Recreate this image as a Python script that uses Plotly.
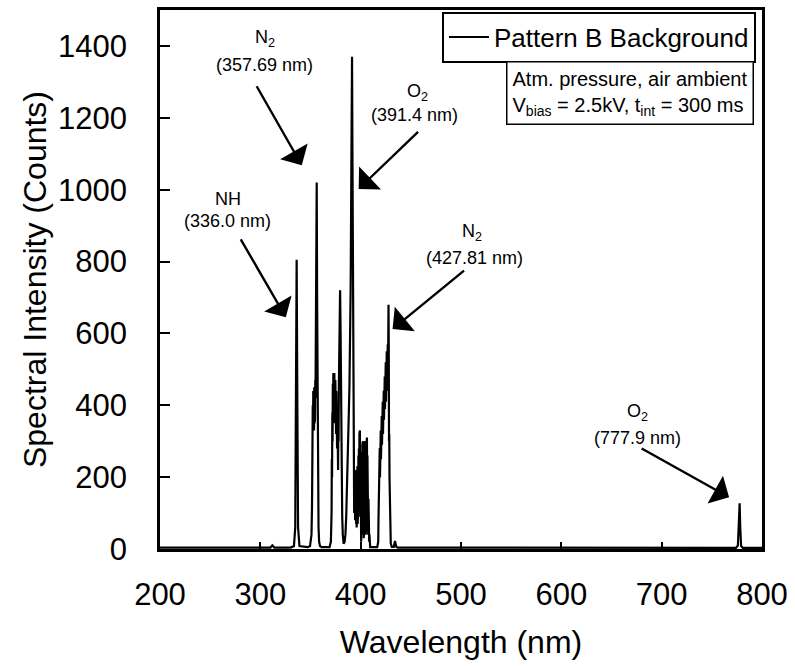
import plotly.graph_objects as go

# ---------------- data ----------------
# (wavelength nm, counts) per spectral region
base_pts = [(200, 4), (296, 4), (300, 5), (304, 4), (310, 4), (312, 10), (314, 4), (330, 4)]

nh_pts = [(333.5, 8), (334.8, 60), (335.6, 520), (336.2, 805), (336.8, 450),
          (337.6, 60), (339, 8), (347, 5)]

n2_357_pts = [(349.5, 8), (351.0, 40), (351.5, 120), (351.75, 300), (352.0, 250),
              (352.25, 400), (352.5, 330), (352.75, 440), (353.0, 340), (353.25, 430),
              (353.5, 330), (353.75, 450), (354.0, 350), (354.25, 440), (354.5, 360),
              (354.75, 470), (355.0, 420), (355.25, 560), (355.5, 700), (355.8, 860),
              (356.2, 1020), (356.6, 700), (357.0, 380), (357.5, 150), (358.0, 60),
              (358.6, 20), (359.5, 8), (361, 5), (369, 5)]

mid_pts = [(370.3, 20), (370.8, 60), (371.0, 100), (371.25, 250), (371.5, 200),
           (371.75, 380), (372.0, 300), (372.25, 460), (372.5, 350), (372.75, 490),
           (373.0, 380), (373.25, 470), (373.5, 360), (373.75, 490), (374.0, 370),
           (374.25, 480), (374.5, 350), (374.75, 470), (375.0, 340), (375.25, 460),
           (375.5, 320), (375.75, 440), (376.0, 300), (376.25, 430), (376.5, 280),
           (376.75, 400), (377.0, 250), (377.25, 380), (377.5, 220), (377.75, 360),
           (378.0, 300), (378.25, 450), (378.5, 520), (379.0, 640), (379.5, 720),
           (380.0, 600), (380.5, 380), (381.0, 200), (381.6, 90), (382.2, 40),
           (383.0, 15), (384.0, 20)]

o2_391_pts = [(384.8, 40), (385.6, 90), (386.4, 160), (387.0, 220), (387.6, 300),
              (388.2, 380), (388.8, 450), (389.4, 560), (390.0, 720), (390.6, 1000),
              (391.0, 1250), (391.4, 1370), (391.8, 1100), (392.2, 700), (392.6, 350),
              (393.0, 200)]

tail_pts = [(393.25, 150), (393.5, 100), (393.75, 190), (394.0, 90), (394.25, 200),
            (394.5, 80), (394.75, 170), (395.0, 110), (395.25, 220), (395.5, 70),
            (395.75, 190), (396.0, 60), (396.25, 160), (396.5, 90), (396.75, 230),
            (397.0, 70), (397.25, 200), (397.5, 110), (397.75, 260), (398.0, 90),
            (398.25, 280), (398.5, 130), (398.75, 320), (399.0, 150), (399.25, 330),
            (399.5, 120), (399.75, 270), (400.0, 60), (400.25, 230), (400.5, 20),
            (400.75, 180), (401.0, 50), (401.25, 240), (401.5, 40), (401.75, 290),
            (402.0, 60), (402.25, 300), (402.5, 40), (402.75, 250), (403.0, 30),
            (403.25, 220), (403.5, 50), (403.75, 280), (404.0, 70), (404.25, 300),
            (404.5, 60), (404.75, 240), (405.0, 40), (405.25, 200), (405.5, 60),
            (405.75, 290), (406.0, 90), (406.25, 310), (406.5, 80), (406.75, 260),
            (407.0, 50), (407.25, 200), (407.5, 40), (407.75, 140), (408.0, 30),
            (408.25, 90), (408.5, 20), (408.75, 40), (409.0, 10), (409.5, 5),
            (416.5, 5)]

n2_427_pts = [(417.5, 20), (417.75, 80), (418.0, 160), (418.25, 120), (418.5, 240),
              (418.75, 170), (419.0, 280), (419.25, 200), (419.5, 300), (419.75, 220),
              (420.0, 330), (420.25, 250), (420.5, 350), (420.75, 270), (421.0, 370),
              (421.25, 290), (421.5, 390), (421.75, 300), (422.0, 410), (422.25, 320),
              (422.5, 430), (422.75, 340), (423.0, 440), (423.25, 360), (423.5, 460),
              (423.75, 370), (424.0, 480), (424.25, 390), (424.5, 500), (424.75, 400),
              (425.0, 520), (425.25, 410), (425.5, 540), (425.75, 430), (426.0, 550),
              (426.25, 440), (426.5, 560), (426.75, 460), (427.0, 570), (427.25, 480),
              (427.5, 600), (427.75, 680), (428.0, 560), (428.25, 300), (428.5, 320),
              (428.75, 200), (429.0, 120), (429.5, 50), (430.0, 15), (431.0, 6),
              (433.0, 6), (434.2, 22), (435.5, 6), (437.0, 4)]

o2_777_pts = [(700, 3), (774, 3), (776, 10), (777.0, 70), (777.7, 127), (778.3, 60),
              (779.2, 8), (781, 3), (800, 3)]

regions = [base_pts, nh_pts, n2_357_pts, mid_pts, o2_391_pts, tail_pts, n2_427_pts, o2_777_pts]
wavelength = [p[0] for r in regions for p in r]
counts = [p[1] for r in regions for p in r]

x_ticks = [200, 300, 400, 500, 600, 700, 800]
y_ticks = [0, 200, 400, 600, 800, 1000, 1200, 1400]

FONT = "Liberation Sans, Arial, Helvetica, sans-serif"

fig = go.Figure()
fig.add_trace(go.Scatter(
    x=wavelength, y=counts, mode="lines",
    line=dict(color="black", width=2.2),
    name="Pattern B Background",
))

# ---------------- peak labels ----------------
labels = [
    ("N<sub>2</sub>", 304.5, 1420),
    ("(357.69 nm)", 304.5, 1348),
    ("NH", 267.7, 974),
    ("(336.0 nm)", 267.7, 913),
    ("O<sub>2</sub>", 456.7, 1270),
    ("(391.4 nm)", 453.7, 1209),
    ("N<sub>2</sub>", 511.4, 880),
    ("(427.81 nm)", 513.4, 811),
    ("O<sub>2</sub>", 675.6, 379),
    ("(777.9 nm)", 675.6, 310),
]
annotations = []
for txt, xx, yy in labels:
    annotations.append(dict(
        x=xx, y=yy, xref="x", yref="y", text=txt, showarrow=False,
        font=dict(family=FONT, size=18, color="black"),
        xanchor="center", yanchor="middle",
    ))

# ---------------- arrows (tail -> tip) ----------------
arrows = [
    (295.5, 1292, 341.3, 1068),
    (279.6, 866, 325.4, 645),
    (458.7, 1165, 398.0, 1002),
    (504.5, 778, 431.8, 612),
    (678.6, 282, 767.2, 144),
]
for ax_, ay_, x_, y_ in arrows:
    annotations.append(dict(
        x=x_, y=y_, ax=ax_, ay=ay_, xref="x", yref="y", axref="x", ayref="y",
        text="", showarrow=True, arrowhead=1, arrowsize=2.2, arrowwidth=2.4,
        arrowcolor="black", standoff=0, startstandoff=0,
    ))

# ---------------- info box ----------------
annotations.append(dict(
    x=0.987, y=0.905, xref="paper", yref="paper", xanchor="right", yanchor="top",
    text="Atm. pressure, air ambient<br>V<sub>bias</sub> = 2.5kV, t<sub>int</sub> = 300 ms",
    showarrow=False, align="left",
    font=dict(family=FONT, size=20, color="black"),
    bordercolor="black", borderwidth=1.5, borderpad=5, bgcolor="white",
))

fig.update_layout(
    width=795, height=666,
    margin=dict(l=160, r=32, t=7, b=117),
    paper_bgcolor="white", plot_bgcolor="white",
    font=dict(family=FONT, color="black"),
    showlegend=True,
    legend=dict(
        x=0.99, y=0.997, xanchor="right", yanchor="top",
        bgcolor="white", bordercolor="black", borderwidth=2,
        font=dict(family=FONT, size=26, color="black"),
        itemwidth=40, tracegroupgap=0,
    ),
    annotations=annotations,
)

fig.update_xaxes(
    range=[200, 800], tickvals=x_ticks, ticktext=[str(v) for v in x_ticks],
    showline=True, linecolor="black", linewidth=2.5, mirror=True,
    ticks="inside", ticklen=7, tickwidth=2, tickcolor="black",
    showgrid=False, zeroline=False,
    tickfont=dict(family=FONT, size=31, color="black"),
    ticklabelstandoff=16,
    title=dict(text="Wavelength (nm)", font=dict(family=FONT, size=32, color="black"), standoff=20),
)
fig.update_yaxes(
    range=[0, 1500], tickvals=y_ticks, ticktext=[str(v) for v in y_ticks],
    showline=True, linecolor="black", linewidth=2.5, mirror=True,
    ticks="inside", ticklen=10, tickwidth=2, tickcolor="black",
    showgrid=False, zeroline=False,
    tickfont=dict(family=FONT, size=31, color="black"),
    ticklabelstandoff=24,
    title=dict(text="Spectral Intensity (Counts)", font=dict(family=FONT, size=32, color="black"), standoff=2),
)

fig.write_html("out.html", config={"displayModeBar": False},
               post_script="document.body.style.margin='0';")
